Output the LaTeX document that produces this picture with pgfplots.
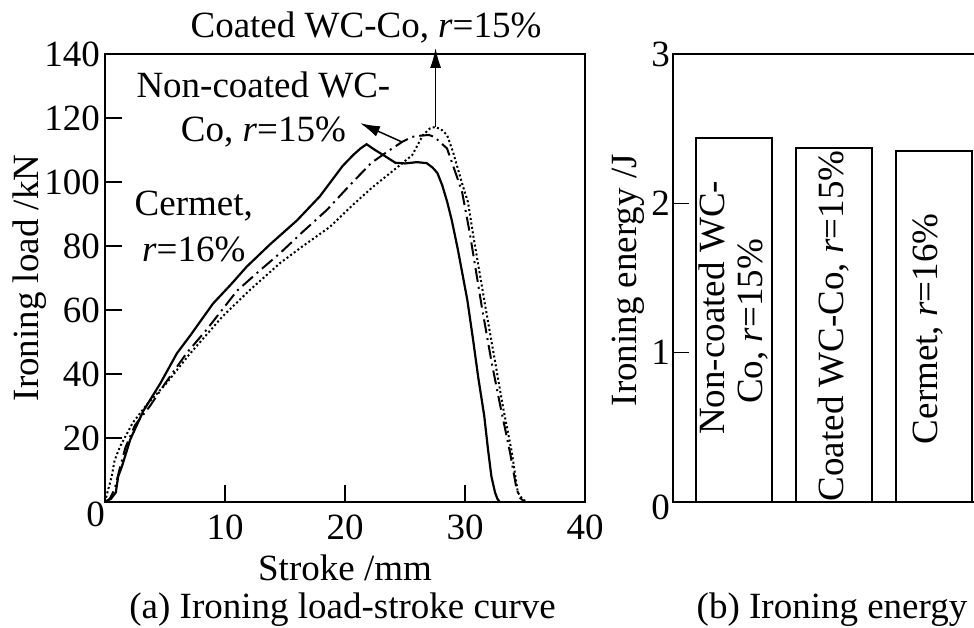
\documentclass[border=0pt]{standalone}
\usepackage{fontspec}
\setmainfont{Liberation Serif}
\usepackage{pgfplots}
\pgfplotsset{compat=1.18}
\usetikzlibrary{arrows.meta}

\newcommand{\bigfont}{\fontsize{37}{44}\selectfont}

\begin{document}
\begin{tikzpicture}[x=1pt,y=1pt,font=\bigfont]
\useasboundingbox (0,0) rectangle (974,628);

% (a) load-stroke curves
\begin{axis}[
  at={(105pt,126pt)}, anchor=south west,
  scale only axis, width=480pt, height=448pt,
  xmin=0, xmax=40, ymin=0, ymax=140,
  axis line style={line width=2pt},
  tick align=inside, tick pos=left,
  major tick length=17pt,
  major tick style={line width=1.6pt, black},
  xtick={10,20,30,40}, ytick={20,40,...,140},
  font=\bigfont,
  /pgf/number format/assume math mode=true,
  xticklabel style={inner sep=0pt, yshift=-13pt},
  yticklabel style={inner sep=0pt, xshift=-5pt},
  extra y ticks={0}, extra y tick labels={0},
  extra y tick style={major tick length=0pt, yticklabel style={yshift=-12pt, xshift=5pt}},
  clip=false,
]
% Cermet, r=16%
\addplot[black, line width=2.2pt] coordinates {
(0,0) (0.5,1) (0.9,3) (1.1,8) (1.4,11) (2.1,19.5) (3.2,28.5) (4.6,37) (6,46.5)
(7.1,52) (9,62) (10.5,68) (11.8,73.5) (13.75,80.5) (16,88) (17.9,95.5)
(19.8,105) (20.7,108.5) (21.3,110.5) (21.8,111.8) (22.5,110) (23.2,108.4)
(24.2,106) (25,105.8) (26,106.2) (26.8,105.9) (27.3,104.5) (27.7,102.8)
(28.1,99) (28.5,94) (28.9,88) (29.4,79) (29.8,71) (30.2,63) (30.7,50)
(31.1,39) (31.6,27) (31.9,17) (32.2,8) (32.5,3) (32.7,1) (32.9,0)
};
% Non-coated WC-Co, r=15%
\addplot[black, line width=2pt, dash pattern=on 14pt off 5pt on 2pt off 5pt] coordinates {
(0,0) (0.4,1) (0.8,4) (1.2,10) (1.7,17) (2.5,24) (3.75,30) (5,37) (6.8,46.5)
(8.5,54) (11,66) (12.8,72) (14.6,77.8) (16.5,84.5) (18.5,91.3) (20.4,99)
(22.2,106) (23.5,109.4) (24.75,112.5) (25.6,114.1) (26.1,114.4) (27,114.7)
(27.5,114) (27.9,112.5) (28.5,110.5) (29.2,103) (29.75,97) (30.4,84)
(31.4,61) (32.2,44) (33,29) (33.75,15.5) (34.3,4) (34.6,1.2) (35,0)
};
% Coated WC-Co, r=15%
\addplot[black, line width=2pt, dash pattern=on 2pt off 2.5pt] coordinates {
(0,0) (0.2,3) (0.56,8) (0.8,13) (1.25,17.3) (2.3,24.7) (3.5,30.5) (5.1,37)
(7,46) (8.75,53.5) (9.8,58) (12,66) (14.6,74.7) (16.5,80) (18.75,86)
(20.7,93) (22.3,98.4) (24,103.5) (25.6,108.4) (26.5,114.7) (27.1,116.8)
(27.5,117.2) (28,116.5) (28.5,114.7) (29,109.4) (29.8,99) (30.25,93.7)
(30.7,83) (31.7,61) (32.5,44) (33.2,29) (33.9,15.6) (34.4,3) (34.8,0.8) (35.2,0)
};
% annotations
\draw[-{Latex[length=20pt,width=11pt]}, line width=1.5pt]
  (axis cs:27.55,117.2) -- (axis cs:27.55,141.9);
\draw[-{Latex[length=20pt,width=11pt]}, line width=1.5pt]
  (axis cs:24.75,112.5) -- (axis cs:21.25,118.4);
\node[anchor=base] at (axis cs:21.75,145) {Coated WC-Co, \textit{r}=15\%};
\node[anchor=base] at (axis cs:13.2,126.25) {Non-coated WC-};
\node[anchor=base] at (axis cs:13.2,112.5) {Co, \textit{r}=15\%};
\node[anchor=base] at (axis cs:7.4,89.4) {Cermet,};
\node[anchor=base] at (axis cs:7.4,75) {\textit{r}=16\%};
\node[anchor=base] at (axis cs:20,-24.6) {Stroke /mm};
\node[anchor=base] at (axis cs:19.8,-36.4) {(a) Ironing load-stroke curve};
\node[rotate=90] at (axis cs:-6.25,70) {Ironing load /kN};
\end{axis}

% (b) ironing energy
\begin{axis}[
  at={(673pt,126pt)}, anchor=south west,
  scale only axis, width=322pt, height=448pt,
  xmin=0.39, xmax=3.61, ymin=0, ymax=3,
  axis line style={line width=2pt},
  tick align=inside, tick pos=left,
  major tick length=16pt,
  major tick style={line width=1.6pt, black},
  xtick=\empty, ytick={1,2,3},
  font=\bigfont,
  /pgf/number format/assume math mode=true,
  yticklabel style={inner sep=0pt, xshift=-3pt},
  extra y ticks={0}, extra y tick labels={0},
  extra y tick style={major tick length=0pt, yticklabel style={yshift=-5pt}},
  ybar, bar width=76pt,
  clip=false,
]
\addplot[draw=black, fill=white, line width=2pt] coordinates {(1,2.44) (2,2.37) (3,2.35)};
\node[rotate=90] at (axis cs:0.78,1.30) {Non-coated WC-};
\node[rotate=90] at (axis cs:1.19,1.21) {Co, \textit{r}=15\%};
\node[rotate=90] at (axis cs:1.99,1.18) {Coated WC-Co, \textit{r}=15\%};
\node[rotate=90] at (axis cs:2.94,1.16) {Cermet, \textit{r}=16\%};
\node[rotate=90] at (axis cs:-0.06,1.485) {Ironing energy /J};
\node[anchor=base] at (axis cs:1.98,-0.777) {(b) Ironing energy};
\end{axis}
\end{tikzpicture}
\end{document}
